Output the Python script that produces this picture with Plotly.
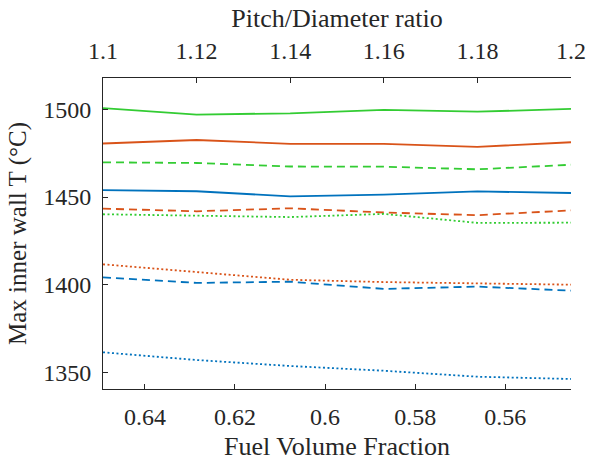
import plotly.graph_objects as go

pitch = [1.1, 1.12, 1.14, 1.16, 1.18, 1.2]

green_solid = [1500.6, 1497.0, 1497.7, 1499.6, 1498.6, 1500.2]
orange_solid = [1480.5, 1482.5, 1480.3, 1480.3, 1478.6, 1481.2]
green_dash = [1469.8, 1469.4, 1467.4, 1467.3, 1465.8, 1468.4]
blue_solid = [1453.9, 1453.3, 1450.4, 1451.4, 1453.2, 1452.3]
orange_dash = [1443.4, 1441.9, 1443.6, 1441.2, 1439.7, 1442.4]
green_dot = [1440.2, 1439.2, 1438.6, 1440.4, 1435.3, 1435.4]
orange_dot = [1411.7, 1407.2, 1402.9, 1401.6, 1400.9, 1400.1]
blue_dash = [1404.3, 1401.1, 1401.8, 1397.7, 1399.0, 1396.7]
blue_dot = [1361.6, 1357.2, 1353.8, 1351.1, 1347.7, 1346.4]

vf_ticks = [0.64, 0.62, 0.6, 0.58, 0.56]
vf_labels = ["0.64", "0.62", "0.6", "0.58", "0.56"]
pitch_ticks = [1.1, 1.12, 1.14, 1.16, 1.18, 1.2]
pitch_labels = ["1.1", "1.12", "1.14", "1.16", "1.18", "1.2"]
y_ticks = [1350, 1400, 1450, 1500]

BLUE = "#0072BD"
ORANGE = "#D95319"
GREEN = "#33CC33"
DASH = "8px,5px"
DOT = "2px,2.5px"

series = [
    (green_solid, GREEN, "solid"),
    (orange_solid, ORANGE, "solid"),
    (blue_solid, BLUE, "solid"),
    (green_dash, GREEN, DASH),
    (orange_dash, ORANGE, DASH),
    (blue_dash, BLUE, DASH),
    (green_dot, GREEN, DOT),
    (orange_dot, ORANGE, DOT),
    (blue_dot, BLUE, DOT),
]

fig = go.Figure()
# invisible trace so the bottom (fuel volume fraction) axis is drawn
fig.add_trace(go.Scatter(x=vf_ticks, y=[None] * len(vf_ticks), mode="lines",
                         xaxis="x", yaxis="y", showlegend=False, hoverinfo="skip"))
for ys, col, dash in series:
    fig.add_trace(go.Scatter(x=pitch, y=ys, mode="lines", xaxis="x2", yaxis="y",
                             line=dict(color=col, width=1.8, dash=dash),
                             showlegend=False, hoverinfo="skip"))

FAM = "Liberation Serif"
tickfont = dict(family=FAM, size=24, color="#262626")
xtitlefont = dict(family=FAM, size=26, color="#262626")
ytitlefont = dict(family=FAM, size=25, color="#262626")
axcol = "#262626"

fig.update_layout(
    width=591, height=465,
    margin=dict(l=102.5, r=20, t=78, b=76),
    paper_bgcolor="white", plot_bgcolor="white",
    font=dict(family=FAM, size=22, color="#262626"),
    showlegend=False,
    xaxis=dict(range=[0.6493, 0.5454], tickvals=vf_ticks, ticktext=vf_labels,
               ticks="inside", ticklen=5, tickcolor=axcol, showline=True,
               linecolor=axcol, linewidth=1, showgrid=False, zeroline=False,
               title=dict(text="Fuel Volume Fraction", standoff=8, font=xtitlefont),
               tickfont=tickfont, automargin=False, ticklabelstandoff=6,
               anchor="y", side="bottom"),
    xaxis2=dict(range=[1.1, 1.2], tickvals=pitch_ticks, ticktext=pitch_labels,
                ticks="inside", ticklen=5, tickcolor=axcol, showline=True,
                linecolor=axcol, linewidth=1, showgrid=False, zeroline=False,
                title=dict(text="Pitch/Diameter ratio", standoff=3, font=xtitlefont),
                tickfont=tickfont, automargin=False, ticklabelstandoff=8,
                overlaying="x", side="top", anchor="y"),
    yaxis=dict(range=[1340.7, 1517.8], tickvals=y_ticks,
               ticks="inside", ticklen=5, tickcolor=axcol, showline=True,
               linecolor=axcol, linewidth=1, showgrid=False, zeroline=False,
               title=dict(text="Max inner wall T (°C)", standoff=9, font=ytitlefont),
               tickfont=tickfont, automargin=False, ticklabelstandoff=6),
)

fig.write_html("out.html", config={"displayModeBar": False},
               post_script="document.body.style.margin='0';")
